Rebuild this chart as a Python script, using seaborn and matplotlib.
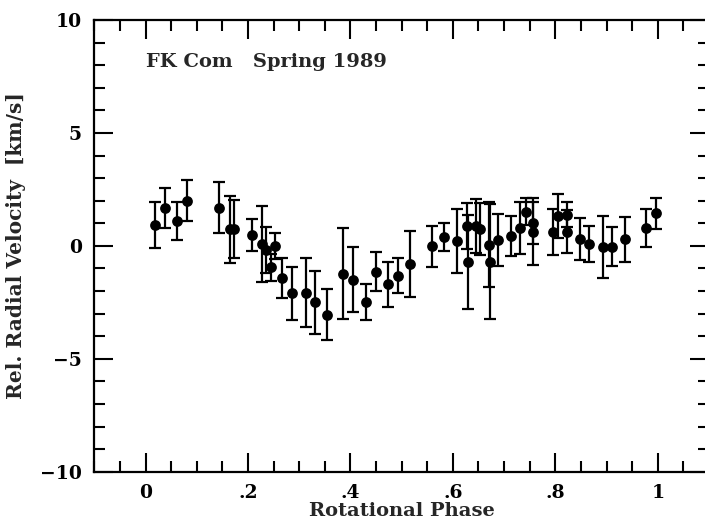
import matplotlib
matplotlib.use("Agg")
import matplotlib.pyplot as plt
import seaborn as sns
import pandas as pd
from matplotlib.ticker import MultipleLocator, FixedLocator, FuncFormatter

phase = [0.0185, 0.038, 0.062, 0.081, 0.1435, 0.165, 0.173, 0.2085, 0.227, 0.235,
         0.244, 0.253, 0.267, 0.286, 0.313, 0.331, 0.354, 0.385, 0.406, 0.4305,
         0.449, 0.474, 0.492, 0.517, 0.559, 0.583, 0.609, 0.627, 0.63, 0.645,
         0.652, 0.67, 0.672, 0.689, 0.714, 0.731, 0.743, 0.756, 0.757, 0.796,
         0.805, 0.8235, 0.8235, 0.848, 0.866, 0.8925, 0.91, 0.936, 0.9765, 0.996]
velocity = [0.92, 1.69, 1.10, 2.00, 1.69, 0.73, 0.75, 0.48, 0.08, -0.18,
            -0.95, 0.00, -1.44, -2.10, -2.07, -2.50, -3.05, -1.23, -1.50, -2.49,
            -1.14, -1.70, -1.33, -0.80, -0.02, 0.38, 0.20, 0.88, -0.72, 0.88,
            0.74, 0.04, -0.70, 0.26, 0.44, 0.78, 1.51, 1.00, 0.63, 0.63,
            1.33, 1.37, 0.63, 0.29, 0.10, -0.04, -0.04, 0.29, 0.78, 1.44]
error = [1.02, 0.89, 0.83, 0.92, 1.13, 1.49, 1.30, 0.70, 1.70, 1.00,
         0.60, 0.58, 0.88, 1.17, 1.52, 1.40, 1.13, 2.00, 1.44, 0.78,
         0.86, 1.00, 0.77, 1.46, 0.90, 0.63, 1.41, 1.03, 2.08, 1.20,
         1.15, 1.88, 2.56, 1.16, 0.88, 1.15, 0.60, 0.93, 1.50, 1.02,
         0.97, 0.55, 0.96, 0.93, 0.80, 1.37, 0.87, 1.00, 0.83, 0.68]

x_major = [0, 0.2, 0.4, 0.6, 0.8, 1.0]
x_labels = ["0", ".2", ".4", ".6", ".8", "1"]
title_text = "FK Com   Spring 1989"
xlabel = "Rotational Phase"
ylabel = "Rel. Radial Velocity  [km/s]"

df = pd.DataFrame({"phase": phase, "velocity": velocity, "error": error})

sns.set_style("ticks")
plt.rcParams['font.family'] = ['DejaVu Serif', 'DejaVu Sans']
plt.rcParams['font.weight'] = 'bold'

fig = plt.figure(figsize=(7.05, 5.21), dpi=100)
ax = fig.add_axes([94.3 / 705, 1 - 471.7 / 521, (709 - 94.3) / 705, (471.7 - 20) / 521])

ax.errorbar(df["phase"], df["velocity"], yerr=df["error"], fmt="none",
            ecolor="black", elinewidth=1.6, capsize=4, capthick=1.6, zorder=2)
sns.scatterplot(data=df, x="phase", y="velocity", ax=ax, color="black",
                s=60, edgecolor="black", linewidth=0, zorder=3, legend=False)

ax.set_xlim(-0.1, 1.1)
ax.set_ylim(-10, 10)

ax.xaxis.set_major_locator(FixedLocator(x_major))
ax.xaxis.set_major_formatter(FuncFormatter(
    lambda v, p: x_labels[x_major.index(round(v, 1))] if round(v, 1) in x_major else ""))
ax.xaxis.set_minor_locator(MultipleLocator(0.05))
ax.yaxis.set_major_locator(MultipleLocator(5))
ax.yaxis.set_minor_locator(MultipleLocator(1))
ax.yaxis.set_major_formatter(FuncFormatter(lambda v, p: f"{int(v)}".replace("-", "\u2212")))

ax.tick_params(which="both", direction="in", top=True, right=True, width=1.5, colors="black")
ax.tick_params(which="major", length=14, labelsize=13.5, pad=9)
ax.tick_params(which="minor", length=8)
for lab in ax.get_xticklabels() + ax.get_yticklabels():
    lab.set_fontweight("bold")

for s in ax.spines.values():
    s.set_linewidth(1.6)
    s.set_color("black")

ax.set_xlabel(xlabel, fontsize=14, fontweight="bold", labelpad=0)
ax.set_ylabel(ylabel, fontsize=14.5, fontweight="bold", labelpad=10)
ax.text(0.0, 8.15, title_text, fontsize=14, fontweight="bold", ha="left", va="center")

fig.savefig("out.png", dpi=100)
